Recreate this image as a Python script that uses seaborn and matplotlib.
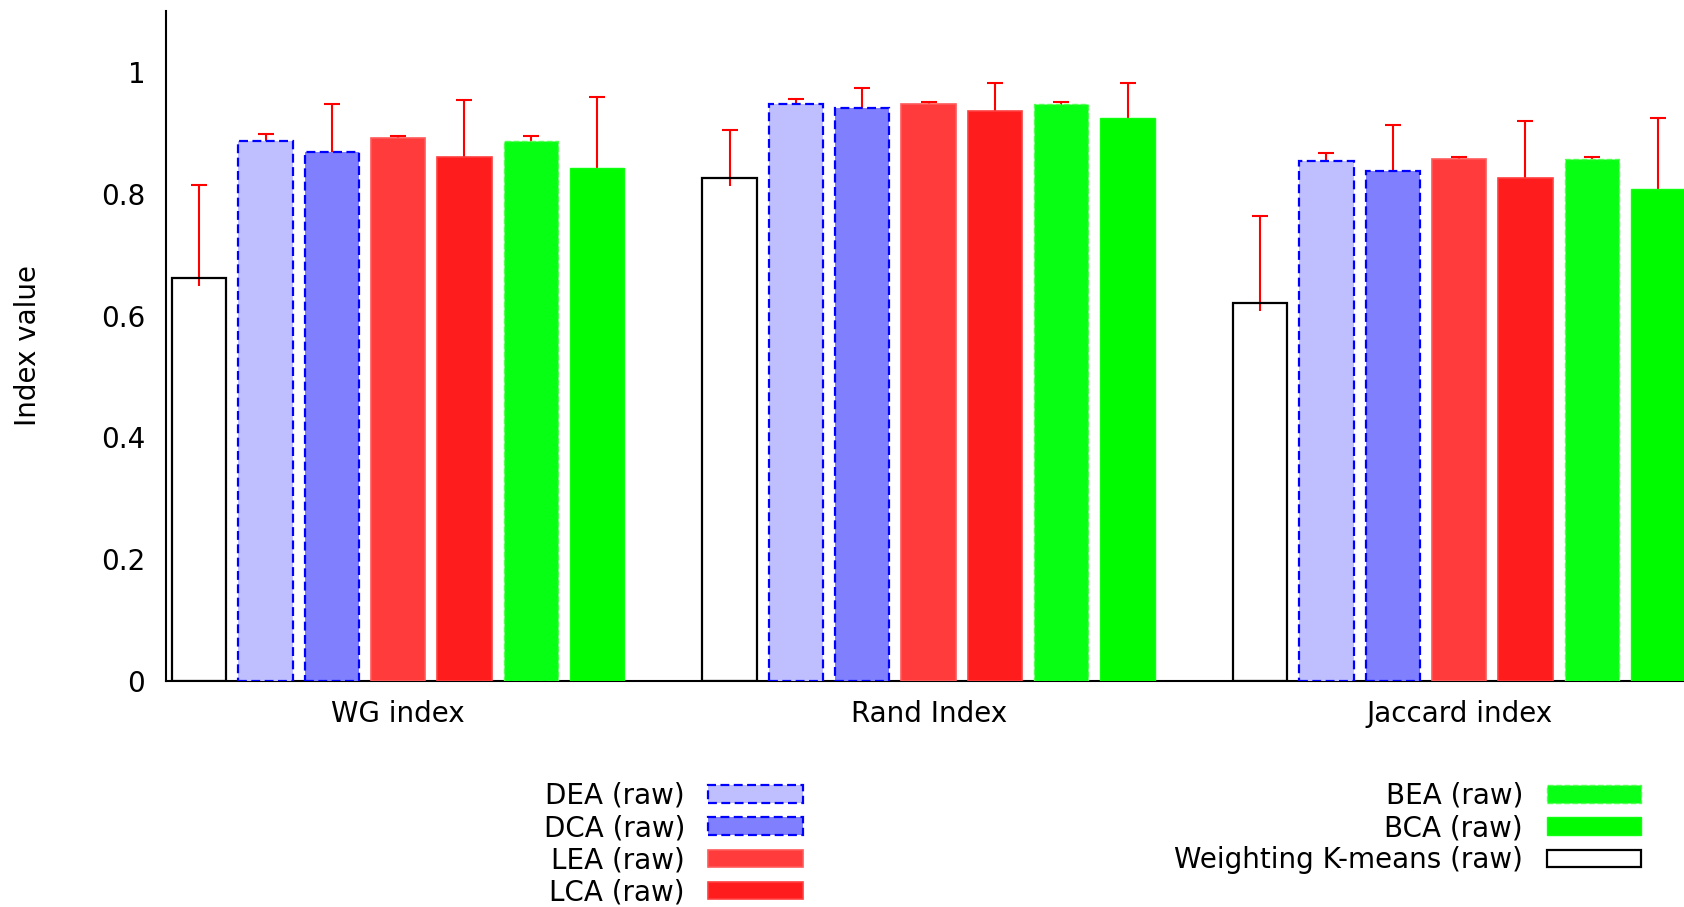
import matplotlib
matplotlib.use("Agg")
import matplotlib.pyplot as plt
import seaborn as sns
import pandas as pd

# Cluster validity indices
indices = ["WG index", "Rand Index", "Jaccard index"]

# Methods in drawing order within each group
methods = ["Weighting K-means (raw)", "DEA (raw)", "DCA (raw)",
           "LEA (raw)", "LCA (raw)", "BEA (raw)", "BCA (raw)"]

# Mean index value per method (WG, Rand, Jaccard)
wkm_vals = [0.662, 0.826, 0.621]
dea_vals = [0.887, 0.948, 0.853]
dca_vals = [0.868, 0.940, 0.837]
lea_vals = [0.891, 0.948, 0.857]
lca_vals = [0.860, 0.936, 0.826]
bea_vals = [0.887, 0.948, 0.857]
bca_vals = [0.842, 0.925, 0.808]

# Upper ends of the error bars
wkm_hi = [0.814, 0.905, 0.764]
dea_hi = [0.898, 0.955, 0.867]
dca_hi = [0.947, 0.973, 0.913]
lea_hi = [0.895, 0.951, 0.860]
lca_hi = [0.954, 0.981, 0.920]
bea_hi = [0.894, 0.951, 0.860]
bca_hi = [0.958, 0.981, 0.924]

# Lower ends of the error bars
wkm_lo = [0.649, 0.813, 0.608]
dea_lo = [0.875, 0.935, 0.840]
dca_lo = [0.855, 0.927, 0.824]
lea_lo = [0.878, 0.935, 0.844]
lca_lo = [0.847, 0.923, 0.813]
bea_lo = [0.874, 0.935, 0.844]
bca_lo = [0.829, 0.912, 0.795]

values = [wkm_vals, dea_vals, dca_vals, lea_vals, lca_vals, bea_vals, bca_vals]
uppers = [wkm_hi, dea_hi, dca_hi, lea_hi, lca_hi, bea_hi, bca_hi]
lowers = [wkm_lo, dea_lo, dca_lo, lea_lo, lca_lo, bea_lo, bca_lo]

fills = ["#ffffff", "#bfbfff", "#8080ff", "#ff3b3b", "#ff1c1c", "#06ff12", "#00fb00"]
edges = ["#000000", "#0000ff", "#0000ff", "#ff5a5a", "#ff4040", "#50ff50", "#10ff10"]
styles = ["-", (0, (4, 2)), (0, (4, 2)), "-", "-", (0, (4, 2)), "-"]
widths = [1.6, 1.6, 1.6, 1.2, 1.2, 1.0, 1.0]

rows = []
for m, vals in zip(methods, values):
    for idx, v in zip(indices, vals):
        rows.append({"index": idx, "method": m, "value": v})
df = pd.DataFrame(rows)

sns.set_style("white")
plt.rcParams["font.family"] = ["DejaVu Sans"]
plt.rcParams["text.color"] = "black"
plt.rcParams["axes.labelcolor"] = "black"
plt.rcParams["xtick.color"] = "black"
plt.rcParams["ytick.color"] = "black"
FS = 20

fig = plt.figure(figsize=(16.84, 9.07), dpi=100)
ax = fig.add_axes([0.0986, 0.2492, 0.9014, 0.7387])

sns.barplot(data=df, x="index", y="value", hue="method", hue_order=methods,
            order=indices, palette=fills, saturation=1, width=0.875, gap=0.18,
            errorbar=None, legend=False, ax=ax, zorder=3)

bar_containers = list(ax.containers)
handles = []
for j, cont in enumerate(bar_containers):
    for bar in cont.patches:
        bar.set_facecolor(fills[j] if j > 0 else "none")
        bar.set_edgecolor(edges[j])
        bar.set_linestyle(styles[j])
        bar.set_linewidth(widths[j])
        bar.set_zorder(3)
    xs = [b.get_x() + b.get_width() / 2 for b in cont.patches]
    vals = values[j]
    hi = uppers[j]
    lo = lowers[j]
    eb = ax.errorbar(xs, vals,
                     yerr=[[v - l for v, l in zip(vals, lo)],
                           [h - v for v, h in zip(vals, hi)]],
                     fmt="none", ecolor="#ff0000", elinewidth=1.5, capsize=6,
                     capthick=1.5, zorder=2)
    # keep only the cap at the upper end
    for cap in eb[1]:
        if abs(cap.get_ydata()[0] - hi[0]) > 1e-9:
            cap.set_visible(False)
    handles.append(cont.patches[0])

ax.set_xlim(-0.4375, 2.424)
ax.set_ylim(0, 1.1)
ax.set_yticks([0, 0.2, 0.4, 0.6, 0.8, 1.0])
ax.set_yticklabels(["0", "0.2", "0.4", "0.6", "0.8", "1"])
ax.set_xlabel("")
ax.set_ylabel("Index value", fontsize=FS)
ax.yaxis.set_label_coords(-0.082, 0.5)

ax.tick_params(axis="y", direction="in", length=9, width=1.4, pad=15,
               labelsize=FS, colors="black")
ax.tick_params(axis="x", length=0, pad=14, labelsize=FS, colors="black")

for s in ["top", "right"]:
    ax.spines[s].set_visible(False)
for s in ["left", "bottom"]:
    ax.spines[s].set_color("black")
    ax.spines[s].set_linewidth(1.5)

# Two legend blocks below the plot, labels left of the swatches
left_ids = [1, 2, 3, 4]
right_ids = [5, 6, 0]
common = dict(frameon=False, markerfirst=False, fontsize=FS, handlelength=3.4,
              handleheight=0.6, handletextpad=0.85, labelspacing=0.15,
              borderpad=0, borderaxespad=0, loc="upper right")
leg1 = fig.legend([handles[i] for i in left_ids], [methods[i] for i in left_ids],
                  bbox_to_anchor=(0.4768, 0.138), **common)
leg2 = fig.legend([handles[i] for i in right_ids], [methods[i] for i in right_ids],
                  bbox_to_anchor=(0.9745, 0.138), **common)
for leg in (leg1, leg2):
    for t in leg.get_texts():
        t.set_ha("right")
        t.set_color("black")

fig.savefig("out.png", dpi=100)
